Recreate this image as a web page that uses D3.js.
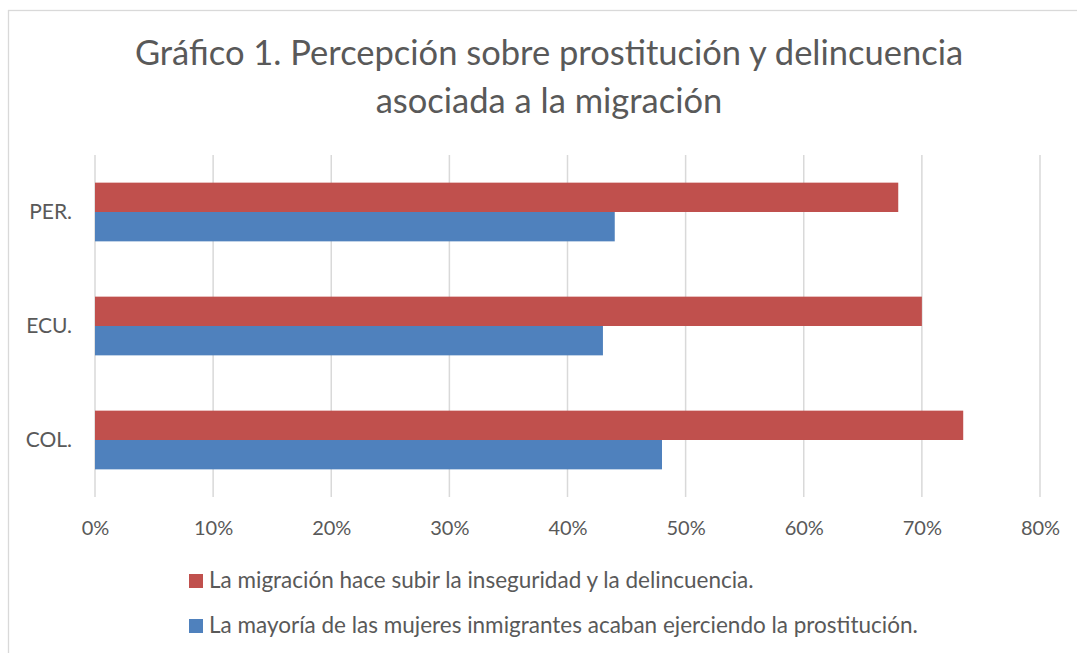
<!DOCTYPE html>
<html>
<head>
<meta charset="utf-8">
<script src="https://cdn.jsdelivr.net/npm/d3@7"></script>
<style>
  body { margin: 0; background: #fff; }
  svg { display: block; font-family: Lato, "Open Sans", sans-serif; }
</style>
</head>
<body>
<svg id="chart" width="1077" height="653"></svg>
<script>
// data
const titleLines = ['Gráfico 1. Percepción sobre prostitución y delincuencia', 'asociada a la migración']
const categories = ['PER.', 'ECU.', 'COL.']
const seriesNames = [
    'La migración hace subir la inseguridad y la delincuencia.',
    'La mayoría de las mujeres inmigrantes acaban ejerciendo la prostitución.'
]
const seriesColors = ['#C0504D', '#4F81BD']
const inseguridad = [0.68, 0.70, 0.735]
const prostitucion = [0.44, 0.43, 0.48]
const xTicks = [0, 0.1, 0.2, 0.3, 0.4, 0.5, 0.6, 0.7, 0.8]

const textColor = '#595959'
const svg = d3.select('#chart')

// chart frame (runs off the right and bottom edge)
svg.append('rect')
    .attr('x', 8.5).attr('y', 10.5)
    .attr('width', 1100).attr('height', 700)
    .attr('fill', 'none')
    .attr('stroke', '#d9d9d9')
    .attr('stroke-width', 1.3)

// title
svg.append('g').selectAll('text')
    .data(titleLines)
    .enter()
    .append('text')
    .attr('x', 549)
    .attr('y', (d, i) => 65 + i * 48)
    .attr('text-anchor', 'middle')
    .attr('fill', textColor)
    .style('font-size', '34.5px')
    .text(d => d)

const x = d3.scaleLinear().domain([0, 0.8]).range([95, 1040])
const y = d3.scaleBand().domain(categories).range([155, 497]).paddingInner(0.485).paddingOuter(0.2425)
const ySub = d3.scaleBand().domain([0, 1]).range([0, y.bandwidth()])

// gridlines
svg.append('g').selectAll('line')
    .data(xTicks)
    .enter()
    .append('line')
    .attr('x1', d => x(d)).attr('x2', d => x(d))
    .attr('y1', 155).attr('y2', 497)
    .attr('stroke', '#d9d9d9')
    .attr('stroke-width', 1.5)

// x axis labels
const xAxis = svg.append('g')
    .attr('transform', 'translate(0,497)')
    .call(d3.axisBottom(x).tickValues(xTicks).tickFormat(d3.format('.0%')).tickSize(0).tickPadding(24))
xAxis.select('.domain').remove()
xAxis.selectAll('text')
    .attr('fill', textColor)
    .style('font-family', 'Lato, sans-serif')
    .style('font-size', '20px')

// category labels
const yAxis = svg.append('g')
    .attr('transform', 'translate(95,0)')
    .call(d3.axisLeft(y).tickSize(0).tickPadding(23))
yAxis.select('.domain').remove()
yAxis.selectAll('text')
    .attr('fill', textColor)
    .style('font-family', 'Lato, sans-serif')
    .style('font-size', '21px')

// bars
const series = [inseguridad, prostitucion]
series.forEach((vals, s) => {
    svg.append('g').selectAll('rect')
        .data(vals)
        .enter()
        .append('rect')
        .attr('x', x(0))
        .attr('y', (d, i) => y(categories[i]) + ySub(s))
        .attr('width', d => x(d) - x(0))
        .attr('height', ySub.bandwidth())
        .attr('fill', seriesColors[s])
})

// legend
const legend = svg.append('g').selectAll('g')
    .data(seriesNames)
    .enter()
    .append('g')
    .attr('transform', (d, i) => `translate(189,${574 + i * 45})`)
legend.append('rect')
    .attr('width', 14).attr('height', 14)
    .attr('fill', (d, i) => seriesColors[i])
legend.append('text')
    .attr('x', 20).attr('y', 14)
    .attr('fill', textColor)
    .style('font-size', '22.5px')
    .text(d => d)
</script>
</body>
</html>
